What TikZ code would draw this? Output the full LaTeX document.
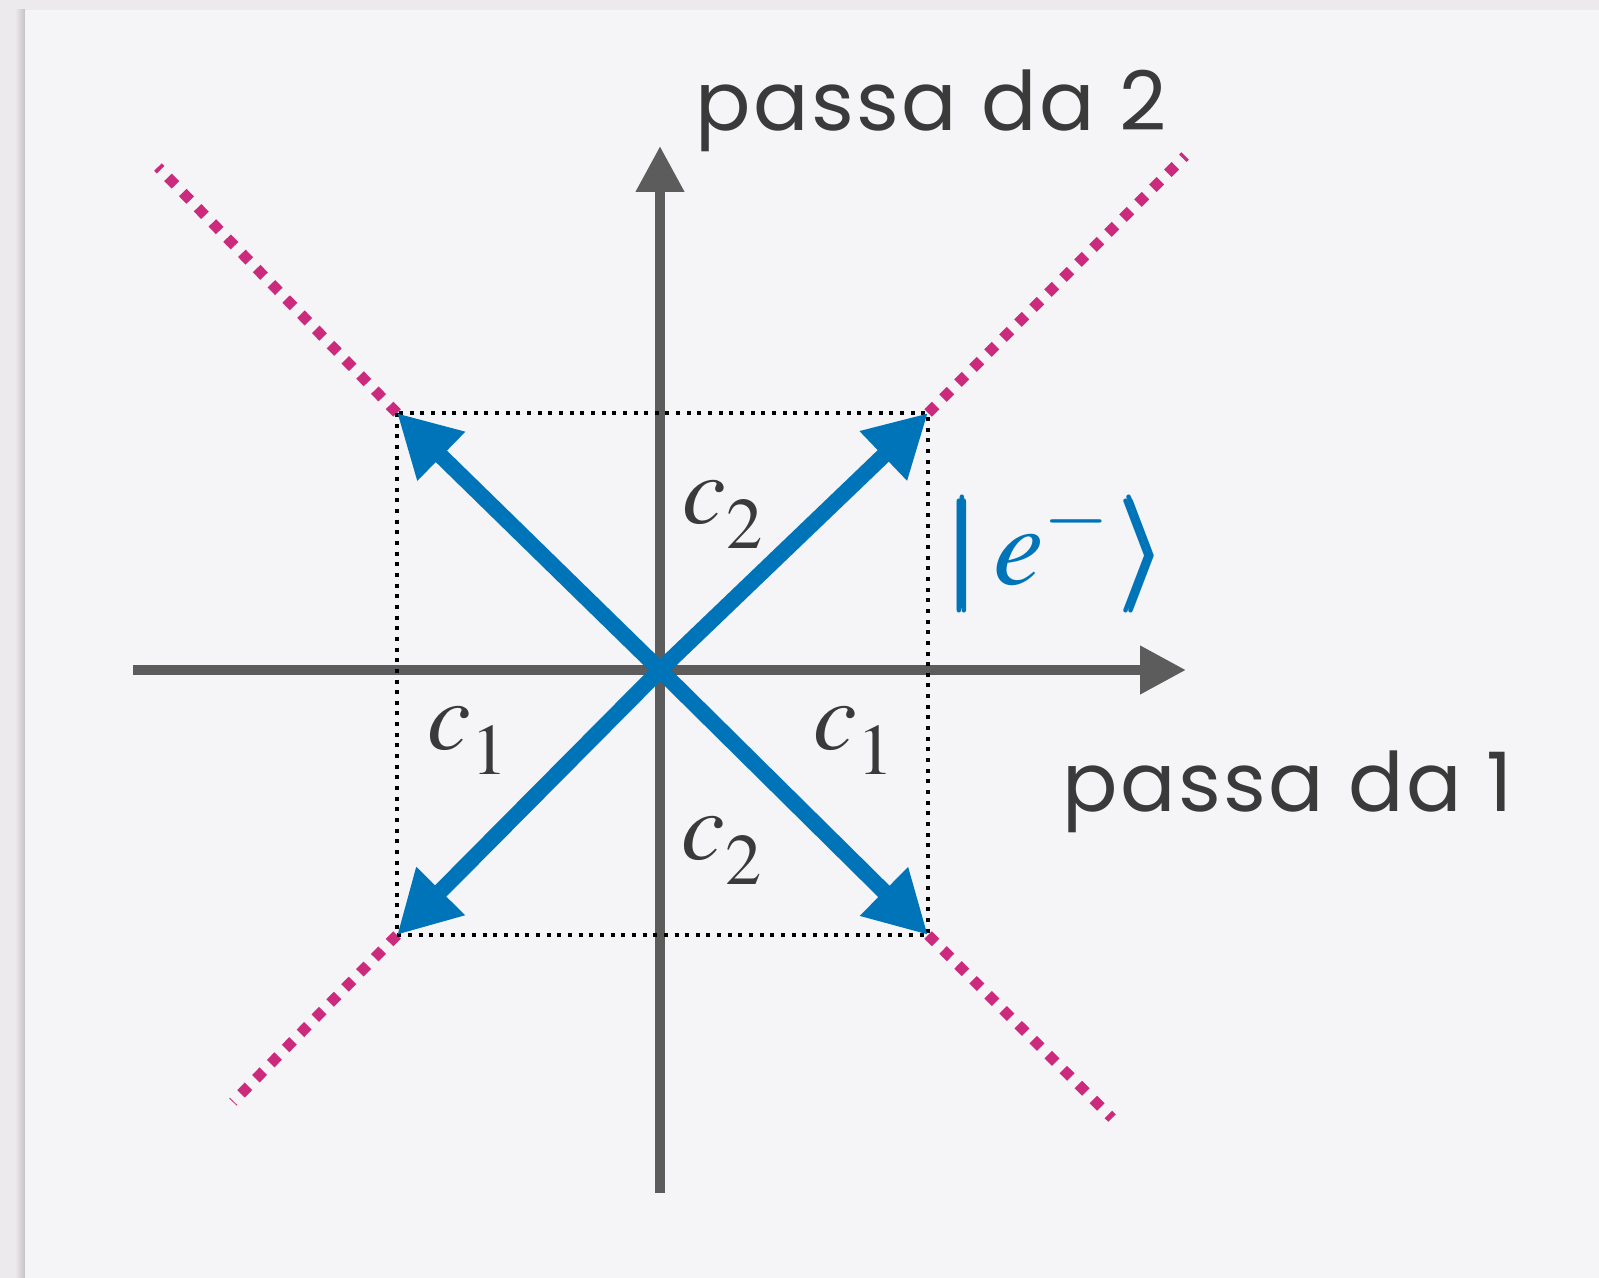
\documentclass[tikz,border=0pt]{standalone}
\usepackage{mathptmx}
\usepackage{amsmath}
\usepackage[no-math]{fontspec}
\newfontfamily\axisfont[LetterSpace=3]{Poppins}
\usetikzlibrary{arrows.meta}
\definecolor{figbg}{RGB}{237,234,237}
\definecolor{figshade}{RGB}{196,194,197}
\definecolor{figpanel}{RGB}{245,244,247}
\definecolor{figaxis}{RGB}{92,92,92}
\definecolor{figtext}{RGB}{58,58,58}
\definecolor{figblue}{RGB}{0,116,184}
\definecolor{figpink}{RGB}{204,42,124}
\newcommand{\lowsub}[1]{_{\raisebox{-5pt}{$\scriptstyle #1$}}}
\tikzset{
  ax/.style={draw=figaxis,line width=5.3pt,-{Triangle[length=23pt,width=23pt]}},
  vec/.style={draw=figblue,line width=8pt,-{Triangle[length=31pt,width=32pt]}},
  guide/.style={draw=figpink,line width=5.3pt,dash pattern=on 5.3pt off 5.3pt},
  frame/.style={draw=black,line width=2pt,dash pattern=on 2pt off 3.33pt},
  axlbl/.style={font=\axisfont\fontsize{41}{50}\selectfont,text=figtext,inner sep=0pt},
  coef/.style={font=\fontsize{49}{58}\selectfont,text=figtext,inner sep=0pt},
  ket/.style={font=\fontsize{57}{66}\selectfont,text=figblue,inner sep=0pt},
}

\begin{document}
\begin{tikzpicture}[x=0.5pt,y=-0.5pt]
\useasboundingbox (0,0) rectangle (1599,1278);

% slide background
\fill[figbg] (0,0) rectangle (1599,1278);
\shade[left color=figbg,right color=figshade] (15,10) rectangle (25,1278);
\fill[figpanel] (25,10) rectangle (1599,1278);

\coordinate (o) at (660,670);
\coordinate (ul) at (397,413);
\coordinate (ur) at (928,413);
\coordinate (ll) at (397,935);
\coordinate (lr) at (928,935);

\coordinate (xl) at (133,670);
\coordinate (xr) at (1186,670);
\coordinate (yb) at (660,1193);
\coordinate (yt) at (660,146);

\coordinate (gul) at (158,167);
\coordinate (gur) at (1185,156);
\coordinate (gll) at (233,1102);
\coordinate (glr) at (1112,1118);

\draw[ax] (xl) -- (xr);
\draw[ax] (yb) -- (yt);

\foreach \c/\g in {ul/gul,ur/gur,ll/gll,lr/glr} \draw[guide] (\c) -- (\g);

\draw[frame] (ul) rectangle (lr);

\foreach \c in {ul,ur,ll,lr} \draw[vec] (o) -- (\c);

\node[axlbl,anchor=base west] (p2) at (695,131) {passa da 2};
\node[axlbl,anchor=base west] (p1) at (1062,811) {passa da 1};

\node[coef] (c2u) at (723,515) {$c\lowsub{2}$};
\node[coef] (c1l) at (468,741) {$c\lowsub{1}$};
\node[coef] (c1r) at (854,741) {$c\lowsub{1}$};
\node[coef] (c2d) at (722,851) {$c\lowsub{2}$};

\node[ket] (psi) at (1058,553) {$\pmb{|}\,e^{-}\,\pmb{\rangle}$};

\end{tikzpicture}
\end{document}
